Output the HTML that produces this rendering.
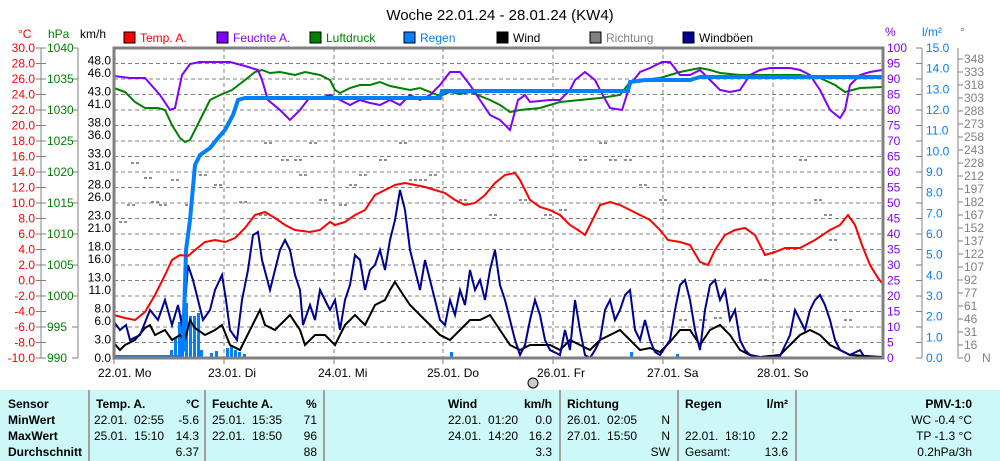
<!DOCTYPE html>
<html><head><meta charset="utf-8"><style>
body{margin:0;background:#fff;width:1000px;height:461px;overflow:hidden;font-family:"Liberation Sans",sans-serif}
svg text{font-family:"Liberation Sans",sans-serif;font-size:12px}
.tb{position:absolute;left:0;top:390px;width:1000px;height:71px;background:#ccf8f8;font-size:12px}
.tb div{position:absolute}
.b{font-weight:bold}
.sep{position:absolute;top:0;height:71px;width:2px;background:#a0a0a0}
</style></head><body>
<svg width="1000" height="390" style="position:absolute;left:0;top:0">
<text x="500" y="20" text-anchor="middle" style="font-size:15px">Woche 22.01.24 - 28.01.24 (KW4)</text>
<g id="legend" style="font-size:12px">
<rect x="124" y="32" width="11" height="11" fill="#f00" stroke="#000"/><text x="140" y="42" fill="#f00">Temp. A.</text>
<rect x="217" y="32" width="11" height="11" fill="#8000ff" stroke="#000"/><text x="233" y="42" fill="#8000ff">Feuchte A.</text>
<rect x="310" y="32" width="11" height="11" fill="#008000" stroke="#000"/><text x="326" y="42" fill="#008000">Luftdruck</text>
<rect x="404" y="32" width="11" height="11" fill="#0080ff" stroke="#000"/><text x="420" y="42" fill="#0080ff">Regen</text>
<rect x="497" y="32" width="11" height="11" fill="#000" stroke="#000"/><text x="513" y="42">Wind</text>
<rect x="590" y="32" width="11" height="11" fill="#808080" stroke="#000"/><text x="606" y="42" fill="#808080">Richtung</text>
<rect x="683" y="32" width="11" height="11" fill="#000090" stroke="#000"/><text x="699" y="42">Windböen</text>
</g>
<text x="18" y="38" fill="#f00">°C</text><text x="48" y="38" fill="#008000">hPa</text><text x="80" y="38">km/h</text>
<text x="885" y="36" fill="#8000ff">%</text><text x="922" y="36" fill="#0080ff">l/m²</text><text x="960" y="36" fill="#808080">°</text>
<g id="grid" stroke="#808080" stroke-dasharray="4,3" stroke-width="1"></g>
<g id="axes"></g>
<g id="dots" fill="#909090"></g>
<g id="rainbars" fill="#0080ff"></g>
<polyline id="wind" fill="none" stroke="#000" stroke-width="2"/>
<polyline id="gust" fill="none" stroke="#000090" stroke-width="2"/>
<polyline id="pres" fill="none" stroke="#008000" stroke-width="2"/>
<polyline id="hum" fill="none" stroke="#8000ff" stroke-width="2"/>
<polyline id="rain" fill="none" stroke="#0080ff" stroke-width="4"/>
<polyline id="temp" fill="none" stroke="#f00" stroke-width="2"/>
<rect x="114" y="48" width="769" height="310" fill="none" stroke="#808080" stroke-width="3"/>
<circle cx="533" cy="383" r="5" fill="#ccc" stroke="#000"/>
</svg>
<div class="tb">
<div class="sep" style="left:88px"></div><div class="sep" style="left:204px"></div><div class="sep" style="left:323px"></div><div class="sep" style="left:559px"></div><div class="sep" style="left:677px"></div><div class="sep" style="left:795px"></div>
<div class="b" style="left:8px;top:7px">Sensor</div><div class="b" style="left:8px;top:23px">MinWert</div><div class="b" style="left:8px;top:39px">MaxWert</div><div class="b" style="left:8px;top:55px">Durchschnitt</div>
<div class="b" style="left:96px;top:7px">Temp. A.</div><div class="b" style="left:186px;top:7px">°C</div>
<div style="left:94px;top:23px">22.01.&nbsp; 02:55</div><div style="left:94px;top:39px">25.01.&nbsp; 15:10</div>
<div style="right:801px;top:23px">-5.6</div><div style="right:801px;top:39px">14.3</div><div style="right:801px;top:55px">6.37</div>
<div class="b" style="left:212px;top:7px">Feuchte A.</div><div class="b" style="left:306px;top:7px">%</div>
<div style="left:212px;top:23px">25.01.&nbsp; 15:35</div><div style="left:212px;top:39px">22.01.&nbsp; 18:50</div>
<div style="right:683px;top:23px">71</div><div style="right:683px;top:39px">96</div><div style="right:683px;top:55px">88</div>
<div class="b" style="left:448px;top:7px">Wind</div><div class="b" style="right:448px;top:7px">km/h</div>
<div style="left:448px;top:23px">22.01.&nbsp; 01:20</div><div style="left:448px;top:39px">24.01.&nbsp; 14:20</div>
<div style="right:448px;top:23px">0.0</div><div style="right:448px;top:39px">16.2</div><div style="right:448px;top:55px">3.3</div>
<div class="b" style="left:567px;top:7px">Richtung</div>
<div style="left:567px;top:23px">26.01.&nbsp; 02:05</div><div style="left:567px;top:39px">27.01.&nbsp; 15:50</div>
<div style="right:330px;top:23px">N</div><div style="right:330px;top:39px">N</div><div style="right:330px;top:55px">SW</div>
<div class="b" style="left:685px;top:7px">Regen</div><div class="b" style="right:212px;top:7px">l/m²</div>
<div style="left:685px;top:39px">22.01.&nbsp; 18:10</div><div style="left:685px;top:55px">Gesamt:</div>
<div style="right:212px;top:39px">2.2</div><div style="right:212px;top:55px">13.6</div>
<div class="b" style="right:28px;top:7px">PMV-1:0</div>
<div style="right:28px;top:23px">WC -0.4 °C</div><div style="right:28px;top:39px">TP -1.3 °C</div><div style="right:28px;top:55px">0.2hPa/3h</div>
</div>
<script>
const NS="http://www.w3.org/2000/svg";
function el(p,t,a,txt){const e=document.createElementNS(NS,t);for(const k in a)e.setAttribute(k,a[k]);if(txt!==undefined)e.textContent=txt;document.getElementById(p).appendChild(e);return e;}
for(let k=1;k<20;k++){const y=358-15.5*k;el('grid','line',{x1:114,x2:883,y1:y,y2:y});}
const days=[114,224,334,443,553,663,773];
const dn=["22.01. Mo","23.01. Di","24.01. Mi","25.01. Do","26.01. Fr","27.01. Sa","28.01. So"];
days.forEach((x,i)=>{if(i>0)el('grid','line',{x1:x,x2:x,y1:48,y2:358});el('axes','line',{x1:x,x2:x,y1:358,y2:364,stroke:'#808080'});el('axes','text',{x:x-16,y:377},dn[i]);});
el('axes','line',{x1:41,x2:41,y1:48,y2:358,stroke:'#808080'});
el('axes','line',{x1:78,x2:78,y1:48,y2:358,stroke:'#808080'});
el('axes','line',{x1:922,x2:922,y1:48,y2:358,stroke:'#808080'});
el('axes','line',{x1:958,x2:958,y1:48,y2:358,stroke:'#808080'});
for(let k=0;k<=20;k++){const y=358-15.5*k;
 el('axes','line',{x1:36,x2:46,y1:y,y2:y,stroke:'#808080'});
 el('axes','text',{x:35,y:y+4,'text-anchor':'end',fill:'#f00'},(-10+2*k).toFixed(1));
 el('axes','text',{x:887,y:y+4,fill:'#8000ff'},5*k);
 el('axes','line',{x1:916,x2:922,y1:y,y2:y,stroke:'#808080'});
 if(k%2==0){const yy=y;el('axes','line',{x1:72,x2:78,y1:yy,y2:yy,stroke:'#808080'});el('axes','text',{x:47,y:yy+4,fill:'#008000'},990+5*(k/2)*1);}
}
for(let k=0;k<=15;k++){const y=358-k*310/15;el('axes','text',{x:926,y:y+4,fill:'#0080ff'},k.toFixed(1));}
[0,16,31,46,61,77,92,107,122,137,152,167,182,197,212,228,243,258,273,288,303,318,333,348].forEach((v,i)=>{const y=358-i*13;el('axes','line',{x1:958,x2:963,y1:y,y2:y,stroke:'#808080'});el('axes','text',{x:964,y:y+4,fill:'#808080','font-size':'11'},v);});
el('axes','text',{x:982,y:362,fill:'#808080'},'N');
[0,3,6,8,11,13,16,18,21,23,26,28,31,33,36,38,41,43,46,48].forEach(v=>{el('axes','text',{x:111,y:358-v*6.2+4,'text-anchor':'end'},v.toFixed(1));});
function pl(id,s){document.getElementById(id).setAttribute('points',s);}
pl('hum',"114,76 130,78 145,78 160,95 170,110 175,108 182,75 190,64 200,62 230,62 245,66 258,70 262,80 268,100 280,110 290,120 300,110 310,97 320,98 330,95 340,100 350,105 360,100 370,103 380,105 390,100 400,105 410,95 420,100 430,95 440,85 450,72 460,72 470,85 480,100 490,115 500,120 510,130 518,100 525,95 530,102 550,100 560,100 570,90 575,80 585,72 595,80 600,90 610,108 622,110 630,85 640,72 650,68 662,62 670,62 680,75 690,75 700,70 710,80 720,90 730,92 740,90 750,75 760,70 770,68 790,68 800,70 810,75 820,90 830,110 840,118 845,110 850,85 860,75 870,72 882,70");
pl('pres',"114,88 125,92 135,102 145,108 158,108 165,110 172,125 180,138 185,142 190,140 200,120 210,100 220,95 232,90 245,80 255,72 262,70 270,73 280,72 295,75 305,72 320,75 330,80 335,90 340,93 350,88 360,85 370,85 380,82 390,86 400,88 410,90 420,88 440,96 450,92 460,94 470,92 480,96 490,100 500,105 510,112 520,110 540,108 560,102 580,100 600,98 620,95 630,82 640,80 660,78 670,75 680,72 690,70 700,68 710,70 720,73 740,75 800,75 820,78 835,85 845,92 860,88 882,87");
pl('rain',"114,357 180,357 183,350 186,250 190,220 195,165 200,155 210,148 218,138 225,130 233,115 238,100 245,98 440,98 442,91 628,91 630,82 645,80 690,80 700,77 882,77");
pl('temp',"114,315 125,318 135,320 145,312 155,295 165,275 172,260 180,255 188,256 195,250 205,242 215,240 225,242 235,238 245,228 255,215 265,212 275,218 285,225 295,230 310,232 320,230 330,222 335,225 345,222 355,215 365,210 375,195 385,190 395,185 405,183 415,185 425,187 435,190 445,193 455,200 465,205 475,203 485,195 495,183 505,175 515,173 520,180 530,200 540,207 550,210 560,215 570,225 578,230 585,235 590,225 600,205 610,202 620,205 630,210 640,215 650,220 660,230 668,240 680,242 690,245 700,262 708,265 715,250 725,235 735,230 745,228 755,235 765,255 775,252 785,248 800,248 815,240 830,230 840,225 848,215 855,225 862,245 870,265 878,278 882,283");
pl('gust',"114,322 120,330 126,325 130,340 140,335 150,310 158,320 165,300 172,325 178,305 183,330 188,265 193,280 198,300 203,320 210,310 215,290 222,275 226,300 230,330 237,340 242,300 248,270 253,235 258,232 262,260 266,275 270,290 275,270 280,250 285,240 290,250 295,275 300,290 303,325 310,305 315,320 320,290 325,300 330,310 335,300 340,330 345,300 350,285 355,255 360,260 365,290 370,270 375,265 380,250 385,270 390,240 395,220 400,190 405,210 410,250 415,270 420,290 425,260 430,280 435,300 440,320 445,325 450,300 455,315 460,290 465,305 470,270 475,290 480,280 485,300 490,270 495,250 500,285 505,300 510,320 515,340 520,355 525,345 530,320 535,300 540,315 545,340 550,350 560,355 565,330 570,350 575,300 580,330 585,355 590,358 595,350 600,340 605,310 610,300 615,320 620,310 625,295 630,290 635,330 640,340 645,320 650,340 655,352 660,355 670,340 675,310 680,285 685,280 690,300 695,330 700,350 705,310 710,285 715,280 720,300 725,290 730,320 735,310 740,340 745,350 750,355 765,358 780,356 790,335 795,310 800,320 805,330 810,310 815,300 820,295 825,305 830,320 835,340 840,350 850,355 860,350 865,358 882,357");
pl('wind',"114,343 120,350 125,345 135,340 145,328 150,325 155,335 165,330 172,340 180,335 185,340 190,320 195,328 205,335 215,330 222,325 230,345 240,350 245,340 255,320 260,310 265,325 275,330 285,320 290,315 300,330 305,345 315,335 325,335 335,345 345,325 355,315 365,325 375,305 385,300 390,290 395,282 400,290 410,305 420,315 430,325 440,335 450,340 460,330 470,320 480,320 490,315 500,330 510,345 520,350 530,345 550,345 560,350 570,340 580,345 590,350 600,340 610,335 620,330 630,340 640,350 650,348 660,352 670,342 680,330 690,330 700,345 710,330 720,325 730,335 740,350 750,355 760,357 780,355 790,345 800,335 810,330 820,335 830,345 840,350 850,355 882,357");
[[170,350],[174,338],[178,322],[181,315],[185,303],[189,316],[193,316],[197,313],[200,350],[210,353],[215,351],[226,348],[230,345],[234,350],[238,352],[243,354],[450,352],[630,352],[676,354]].forEach(([x,y])=>el('rainbars','rect',{x:x,y:y,width:3,height:358-y}));
const dots=[[132,163],[145,178],[152,202],[120,222],[128,205],[160,205],[172,180],[186,205],[200,175],[215,185],[240,202],[260,215],[265,143],[282,160],[295,160],[300,175],[310,143],[320,200],[340,205],[350,185],[360,175],[380,160],[400,143],[410,180],[420,180],[430,175],[460,200],[490,215],[520,200],[545,215],[560,210],[580,160],[600,143],[610,160],[625,160],[640,185],[660,200],[680,320],[700,320],[715,318],[760,280],[800,160],[815,200],[825,215],[830,240],[845,320]];
dots.forEach(([x,y])=>{el('dots','rect',{x:x-1,y:y-1,width:3,height:2});el('dots','rect',{x:x+4,y:y-1,width:3,height:2});});
</script>
</body></html>
